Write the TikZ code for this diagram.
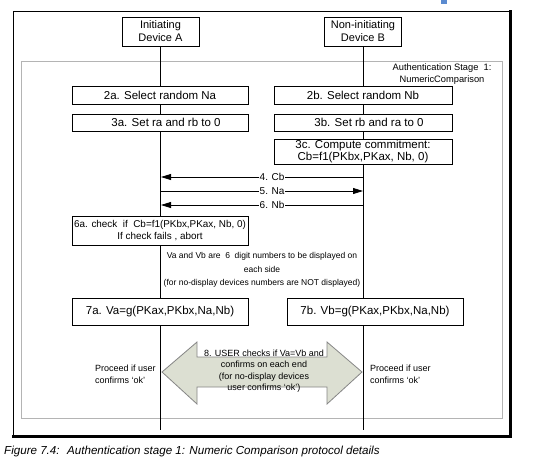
\documentclass[tikz,border=0pt]{standalone}
\usepackage{fontspec}
\setmainfont{Liberation Sans}
\usetikzlibrary{arrows.meta}
\definecolor{framegray}{HTML}{B4B4B4}
\definecolor{arrowfill}{HTML}{DCDFD2}
\definecolor{arrowedge}{HTML}{858585}
\definecolor{headblue}{HTML}{5B8BD0}
\begin{document}
\begin{tikzpicture}[x=1pt,y=-1pt,
  box/.style={draw, fill=white, line width=0.8pt, inner sep=0pt, align=center, font=\fontsize{11.5}{13}\selectfont},
  small/.style={inner sep=0pt, align=center, font=\fontsize{9}{11.5}\selectfont},
  lifeline/.style={line width=0.7pt},
  msg/.style={line width=0.8pt, -{Triangle[length=10pt,width=6pt]}},
  msglbl/.style={fill=white, inner sep=0.6pt, font=\fontsize{10}{12}\selectfont}]
\useasboundingbox (0,0) rectangle (546,475);
% cropped heading fragment
\fill[headblue] (441,0) rectangle (447,3.5);
% outer frame
\draw[line width=1pt] (13,11) rectangle (510,435);
\draw[line width=3pt] (510,10) -- (510,436.5) -- (12,436.5);
% stage frame
\draw[framegray, line width=1pt] (21,61) rectangle (502,418);
\node[small, font=\fontsize{9.3}{11.5}\selectfont] (stage) at (442,74) {Authentication Stage~ 1:\\NumericComparison};
% devices
\node[box, minimum width=77pt, minimum height=29pt, font=\fontsize{11}{13}\selectfont] (devA) at (160.5,31.5) {Initiating\\Device A};
\node[box, minimum width=77pt, minimum height=29pt, font=\fontsize{11}{13}\selectfont] (devB) at (363,31.5) {Non-initiating\\Device B};
\coordinate (aEnd) at (160.5,430);
\coordinate (bEnd) at (363,430);
\draw[lifeline] (devA.south) -- (aEnd);
\draw[lifeline] (devB.south) -- (bEnd);
% steps
\node[box, minimum width=176pt, minimum height=18pt] (s2a) at (160,95) {2a. Select random Na};
\node[box, minimum width=178pt, minimum height=18pt] (s2b) at (363,95) {2b. Select random Nb};
\node[box, minimum width=176pt, minimum height=17pt] (s3a) at (160,122.5) {\hspace*{12pt}3a. Set ra and rb to 0};
\node[box, minimum width=178pt, minimum height=17pt] (s3b) at (363,122.5) {\hspace*{12pt}3b. Set rb and ra to 0};
\node[box, minimum width=178pt, minimum height=25pt, font=\fontsize{11.5}{11.5}\selectfont] (s3c) at (363,151.5) {3c. Compute commitment:\\Cb=f1(PKbx,PKax, Nb, 0)};
% messages
\coordinate (a4) at (161,177); \coordinate (b4) at (363,177);
\coordinate (a5) at (161,191); \coordinate (b5) at (363,191);
\coordinate (a6) at (161,205); \coordinate (b6) at (363,205);
\draw[msg] (b4) -- node[msglbl, pos=0.45] (l4) {4. Cb} (a4);
\draw[msg] (a5) -- node[msglbl, pos=0.55] (l5) {5. Na} (b5);
\draw[msg] (b6) -- node[msglbl, pos=0.45] (l6) {6. Nb} (a6);
% check
\node[box, minimum width=176pt, minimum height=29pt, font=\fontsize{9.9}{12}\selectfont] (s6a) at (160,230.5) {6a. check~ if~ Cb=f1(PKbx,PKax, Nb, 0)\\If check fails , abort};
\node[small, font=\fontsize{8.5}{13.5}\selectfont] (note) at (262,270) {Va and Vb are~ 6~ digit numbers to be displayed on\\each side\\(for no-display devices numbers are NOT displayed)};
\node[box, minimum width=176pt, minimum height=27pt] (s7a) at (160,311.5) {7a. Va=g(PKax,PKbx,Na,Nb)};
\node[box, minimum width=176pt, minimum height=27pt] (s7b) at (375,311.5) {7b. Vb=g(PKax,PKbx,Na,Nb)};
% double arrow
\draw[arrowedge, fill=arrowfill, line width=0.8pt]
  (162,372) -- (197,342) -- (197,357) -- (327,357) -- (327,342) -- (362,372)
  -- (327,404) -- (327,387) -- (197,387) -- (197,404) -- cycle;
\node[small, font=\fontsize{9}{11.5}\selectfont] (user) at (264,371) {8. USER checks if Va=Vb and\\confirms on each end\\(for no-display devices\\user confirms `ok')};
\node[small, align=left, anchor=west, font=\fontsize{9}{12}\selectfont] (procA) at (95,374) {Proceed if user\\confirms `ok'};
\node[small, align=left, anchor=west, font=\fontsize{9}{12}\selectfont] (procB) at (370,374) {Proceed if user\\confirms `ok'};
% caption
\node[inner sep=0pt, anchor=west, font=\itshape\fontsize{11.6}{14}\selectfont] (cap) at (4,451) {Figure 7.4:~ Authentication stage 1: Numeric Comparison protocol details};
\end{tikzpicture}
\end{document}
